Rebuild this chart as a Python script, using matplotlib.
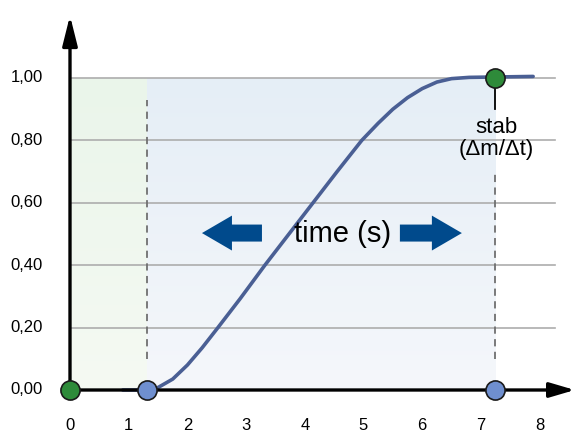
import numpy as np
import matplotlib.pyplot as plt
from matplotlib.colors import LinearSegmentedColormap

plt.rcParams['font.family'] = ['Liberation Sans', 'DejaVu Sans']

# curve
t = [0.9, 1.2, 1.31, 1.5, 1.75, 2.0, 2.25, 2.52, 2.9, 3.32, 3.73, 4.14, 4.55,
     4.97, 5.25, 5.5, 5.75, 6.0, 6.25, 6.5, 6.8, 7.89]
m = [0.0, 0.0, 0.001, 0.008, 0.035, 0.08, 0.135, 0.20, 0.293, 0.40, 0.50, 0.60,
     0.70, 0.80, 0.855, 0.90, 0.937, 0.966, 0.987, 0.998, 1.002, 1.005]

x_ticks = [0, 1, 2, 3, 4, 5, 6, 7, 8]
y_ticks = [0.0, 0.2, 0.4, 0.6, 0.8, 1.0]
y_labels = ['0,00', '0,20', '0,40', '0,60', '0,80', '1,00']

t_start = 1.31
t_stab = 7.24

fig = plt.figure(figsize=(5.75, 4.32), dpi=100)
ax = fig.add_axes([0, 0, 1, 1])
ax.set_xlim(-70 / 58.7, 505 / 58.7)
ax.set_ylim(-42 / 312, 390 / 312)
ax.axis('off')

# shaded phases with a soft vertical fade
grad = np.linspace(0, 1, 256).reshape(-1, 1)
green = LinearSegmentedColormap.from_list('g', ['#f5faf3', '#eaf5ea'])
blue = LinearSegmentedColormap.from_list('b', ['#f5f7fb', '#e5eef6'])
ax.imshow(grad, cmap=green, extent=[0, t_start, 0, 1], origin='lower',
          aspect='auto', zorder=0)
ax.imshow(grad, cmap=blue, extent=[t_start, t_stab, 0, 1], origin='lower',
          aspect='auto', zorder=0)

# grid lines
for yv in y_ticks[1:]:
    ax.plot([0, 8.26], [yv, yv], color='#adadad', lw=1.2, zorder=1)

# dashed markers
ax.plot([t_start, t_start], [0.1, 0.93], color='#707070', lw=1.3,
        ls=(0, (4, 3)), zorder=2)
ax.plot([t_stab, t_stab], [0.1, 0.7], color='#707070', lw=1.3,
        ls=(0, (4, 3)), zorder=2)
ax.plot([t_stab, t_stab], [0.9, 1.0], color='black', lw=1.3, zorder=2)

# curve
ax.plot(t, m, color='#4a5f94', lw=2.6, solid_capstyle='round',
        solid_joinstyle='round', zorder=3)

# axes with arrows
ax.annotate('', xy=(0, 1.2), xytext=(0, -0.004),
            arrowprops=dict(arrowstyle='-|>,head_length=1.0,head_width=0.25',
                            color='black', lw=2.4, mutation_scale=18,
                            shrinkA=0, shrinkB=0), zorder=4)
ax.annotate('', xy=(8.6, 0), xytext=(-0.02, 0),
            arrowprops=dict(arrowstyle='-|>,head_length=0.85,head_width=0.25',
                            color='black', lw=2.4, mutation_scale=18,
                            shrinkA=0, shrinkB=0), zorder=4)

# points
ax.scatter([0, t_stab], [0, 1.0], s=190, color='#2e8b3a', edgecolor='#1a1a1a',
           lw=1.2, zorder=5)
ax.scatter([t_start, t_stab], [0, 0], s=190, color='#6f8fcf', edgecolor='#1a1a1a',
           lw=1.2, zorder=5)

# tick labels
for xv in x_ticks:
    ax.text(xv, -0.115, str(xv), ha='center', va='center', fontsize=12)
for yv, lab in zip(y_ticks, y_labels):
    ax.text(-0.46, yv, lab, ha='right', va='center', fontsize=12)

# time label with arrows
ax.text(4.65, 0.50, 'time (s)', ha='center', va='center', fontsize=21, zorder=4)
ax.arrow(3.27, 0.503, -1.022 + 0.511, 0, width=0.0545, head_width=0.112,
         head_length=0.511, length_includes_head=False, color='#004a8c',
         lw=0, zorder=4)
ax.arrow(5.62, 0.503, 1.056 - 0.511, 0, width=0.0545, head_width=0.112,
         head_length=0.511, length_includes_head=False, color='#004a8c',
         lw=0, zorder=4)

ax.text(7.27, 0.842, 'stab', ha='center', va='center', fontsize=16, zorder=4)
ax.text(7.27, 0.772, '(\u0394m/\u0394t)', ha='center', va='center', fontsize=16,
        zorder=4)

fig.savefig('out.png', dpi=100)
